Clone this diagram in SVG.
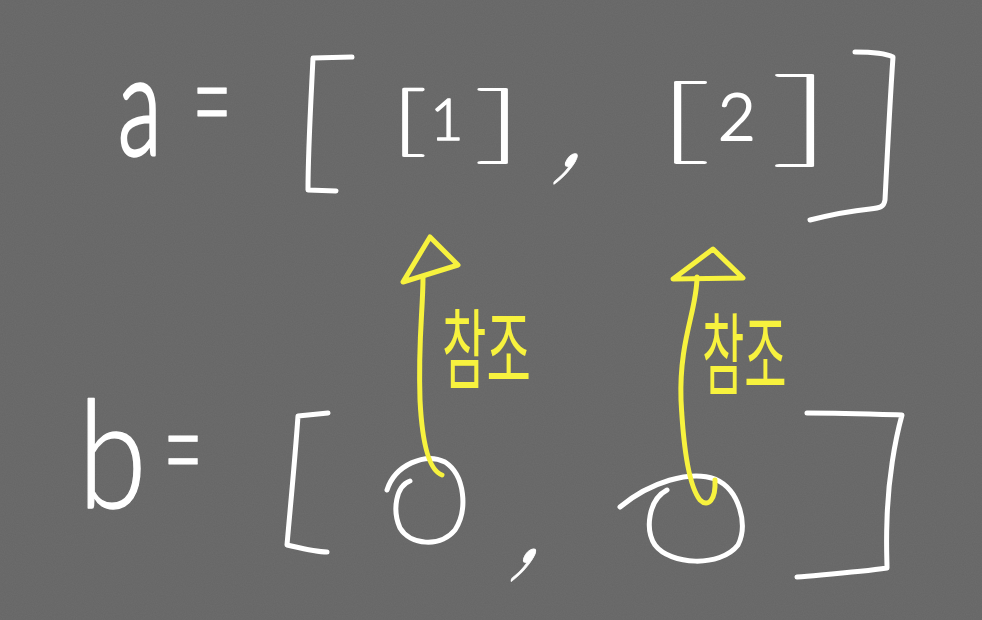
<svg xmlns="http://www.w3.org/2000/svg" width="982" height="620" viewBox="0 0 982 620">
<style>
.bg{fill:#6d6d6d}
.ink{fill:none;stroke:#ffffff;stroke-width:5;stroke-linecap:round;stroke-linejoin:round}
.yl{fill:none;stroke:#f7f23e;stroke-width:5;stroke-linecap:round;stroke-linejoin:round}
.wt{fill:#ffffff;stroke:#ffffff;stroke-linejoin:round;font-family:Lato,"Liberation Sans",sans-serif;font-weight:300}
.br{font-weight:100}
.kt{fill:#f7f23e;font-family:"Noto Sans CJK KR","Noto Sans",sans-serif;font-weight:400;font-size:46px}
</style>
<defs>
<filter id="noise" x="0" y="0" width="100%" height="100%">
<feTurbulence type="fractalNoise" baseFrequency="0.9" numOctaves="2" seed="3"/>
<feColorMatrix type="matrix" values="0 0 0 0 0  0 0 0 0 0  0 0 0 0 0  0 0 0 0.07 0"/>
</filter>
<marker id="head1" markerUnits="userSpaceOnUse" viewBox="-20 -40 80 90" markerWidth="80" markerHeight="90" refX="0" refY="0" orient="auto" overflow="visible">
<path d="M-5,-20 L40,7 L12,35 Z" fill="none" stroke="#f7f23e" stroke-width="5" stroke-linejoin="round"/>
</marker>
<marker id="head2" markerUnits="userSpaceOnUse" viewBox="-20 -40 80 100" markerWidth="80" markerHeight="100" refX="0" refY="0" orient="auto" overflow="visible">
<path d="M-2,-24 L28,16 L-1,46 Z" fill="none" stroke="#f7f23e" stroke-width="5" stroke-linejoin="round"/>
</marker>
</defs>
<rect class="bg" width="982" height="620"/>
<rect width="982" height="620" filter="url(#noise)"/>

<g id="label-a">
<text class="wt" font-size="100" stroke-width="2.5" transform="translate(118,155) scale(0.9,1.4)">a</text>
<text class="wt" font-size="90" stroke-width="0.5" transform="translate(192,151) scale(0.77,1.6)">=</text>
</g>
<g id="list-a">
<path class="ink" d="M352,57 L313,58 C311,100 308,150 308,190 L336,191"/>
<path class="ink" d="M855,52 C870,52 885,53 893,57 C890,100 887,160 885,200 C884,207 880,208 870,209 C850,211 830,215 810,220"/>
<text class="wt" font-size="90" stroke-width="0.6" transform="translate(556,166) skewX(-30) scale(1.2,1.6)">,</text>
</g>
<g id="elem-1">
<text class="wt br" font-size="77" stroke-width="2.6" transform="translate(390,147) scale(1.7,1)">[</text>
<text class="wt" font-size="58" stroke-width="1.5" x="430" y="140">1</text>
<text class="wt br" font-size="85" stroke-width="2.2" transform="translate(472,153) scale(2.2,1)">]</text>
</g>
<g id="elem-2">
<text class="wt br" font-size="93" stroke-width="2.2" transform="translate(654,152) scale(2.2,1)">[</text>
<text class="wt" font-size="65" stroke-width="2" x="718" y="140">2</text>
<text class="wt br" font-size="104" stroke-width="2" transform="translate(767,153) scale(2.4,1)">]</text>
</g>

<g id="label-b">
<text class="wt" font-size="150" stroke-width="1.5" transform="translate(78,508) scale(0.83,1)">b</text>
<text class="wt" font-size="90" stroke-width="0.5" transform="translate(163,499) scale(0.77,1.6)">=</text>
</g>
<g id="list-b">
<path class="ink" d="M328,413 L298,416 C295,460 290,510 287,545 C300,548 315,552 327,552"/>
<path class="ink" d="M807,413 C840,413 870,414 902,415 C895,440 888,480 887,520 C886,545 887,560 887,568 C860,572 830,574 797,577"/>
<text class="wt" font-size="90" stroke-width="0.6" transform="translate(514,562) skewX(-30) scale(1.2,1.7)">,</text>
</g>
<g id="ref-1">
<path class="ink" d="M410,481 C396,486 392,510 400,528 C410,545 440,548 455,530 C468,510 465,475 445,462 C425,452 395,465 387,490"/>
</g>
<g id="ref-2">
<path class="ink" d="M667,490 C648,500 645,530 655,545 C670,565 720,568 738,545 C748,525 740,490 715,479 C690,470 650,482 620,507"/>
</g>

<g id="connectors">
<path class="yl" marker-end="url(#head1)" d="M442,475 C428,470 422,440 420,400 C418,340 423,310 423,277"/>
<path class="yl" marker-end="url(#head2)" d="M715,480 C716,500 708,508 700,500 C688,485 683,440 681,400 C679,340 697,310 697,277"/>
<text class="kt" transform="translate(442,382) scale(1.05,1.9)">참조</text>
<text class="kt" transform="translate(702,388) scale(1.0,1.95)">참조</text>
</g>
</svg>
